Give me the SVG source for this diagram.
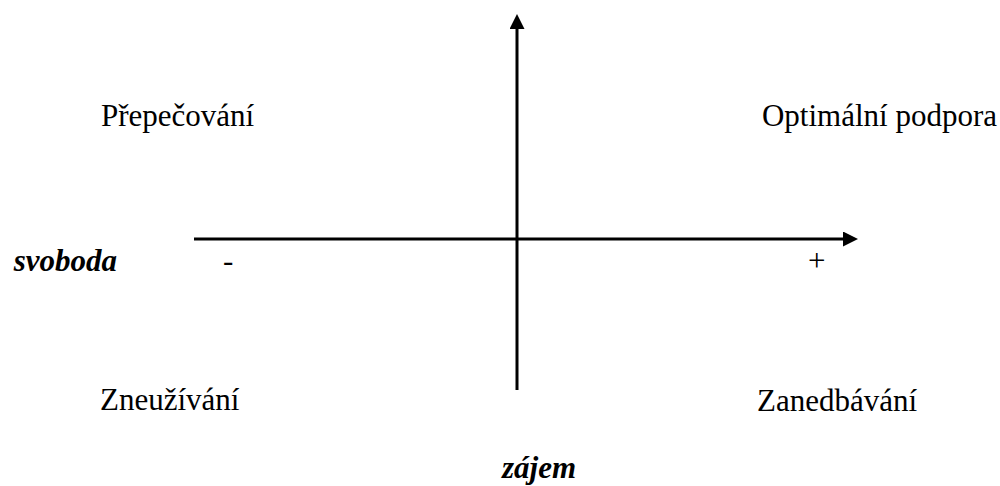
<svg xmlns="http://www.w3.org/2000/svg" width="1000" height="486" viewBox="0 0 1000 486">
<style>
.t{font-family:"Liberation Serif",serif;font-size:31px;fill:#000}
.b{font-weight:bold;font-style:italic}
.ax{stroke:#000;stroke-width:3;fill:none}
</style>
<defs>
<marker id="ah" viewBox="0 0 15 15" refX="0" refY="7.5" markerWidth="15" markerHeight="15" markerUnits="userSpaceOnUse" orient="auto">
<path d="M0,0 L15,7.5 L0,15 Z" fill="#000"/>
</marker>
</defs>
<rect width="1000" height="486" fill="#fff"/>
<g id="connectors">
<line class="ax" x1="517" y1="390" x2="517" y2="29" marker-end="url(#ah)"/>
<line class="ax" x1="194" y1="239" x2="843" y2="239" marker-end="url(#ah)"/>
</g>
<g id="n1"><text class="t" x="101" y="126">Přepečování</text></g>
<g id="n2"><text class="t" x="997" y="126" text-anchor="end">Optimální podpora</text></g>
<g id="n3"><text class="t b" x="117" y="271" text-anchor="end">svoboda</text></g>
<g id="n4"><text class="t" x="223" y="271">-</text></g>
<g id="n5"><text class="t" x="808" y="271">+</text></g>
<g id="n6"><text class="t" x="100" y="410">Zneužívání</text></g>
<g id="n7"><text class="t" x="757" y="411">Zanedbávání</text></g>
<g id="n8"><text class="t b" x="502" y="478">zájem</text></g>
</svg>
